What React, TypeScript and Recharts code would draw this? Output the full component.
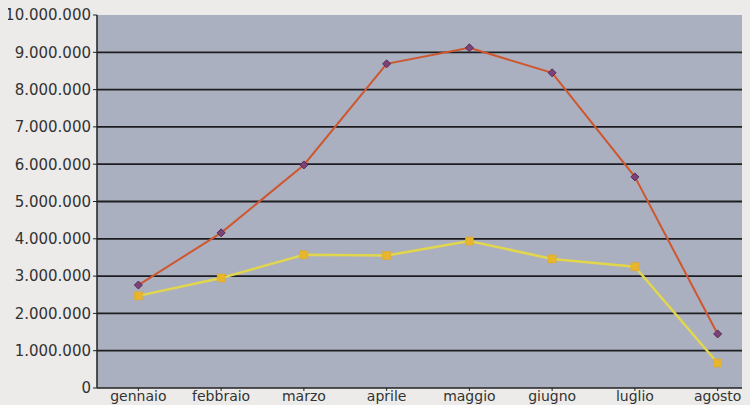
import React from 'react';
import { LineChart, Line, XAxis, YAxis, CartesianGrid } from 'recharts';

const months = ['gennaio', 'febbraio', 'marzo', 'aprile', 'maggio', 'giugno', 'luglio', 'agosto'];
const redSeries = [2760000, 4160000, 5980000, 8690000, 9120000, 8450000, 5660000, 1450000];
const yellowSeries = [2470000, 2950000, 3570000, 3550000, 3940000, 3460000, 3250000, 670000];
const yTicks = [0, 1000000, 2000000, 3000000, 4000000, 5000000, 6000000, 7000000, 8000000, 9000000, 10000000];
const gridValues = [1000000, 2000000, 3000000, 4000000, 5000000, 6000000, 7000000, 8000000, 9000000];

const data = months.map((m, i) => ({ month: m, red: redSeries[i], yellow: yellowSeries[i] }));

const fmt = (v: number) => String(v).replace(/\B(?=(\d{3})+(?!\d))/g, '.');

const Diamond = (props: any) => {
  const { cx, cy, index } = props;
  if (cx == null || cy == null) return null;
  const r = 4;
  return (
    <polygon
      key={`d-${index}`}
      points={`${cx},${cy - r} ${cx + r},${cy} ${cx},${cy + r} ${cx - r},${cy}`}
      fill="#7a4276"
      stroke="#5a2a5a"
      strokeWidth={1}
    />
  );
};

const Square = (props: any) => {
  const { cx, cy, index } = props;
  if (cx == null || cy == null) return null;
  const r = 4;
  return <rect key={`s-${index}`} x={cx - r} y={cy - r} width={2 * r} height={2 * r} fill="#e8b52e" stroke="#e0a820" strokeWidth={0.5} />;
};

export default function App() {
  return (
    <div style={{ width: 742, height: 405, marginTop: -8, overflow: 'hidden', background: '#ecebe9' }}>
      <style>{`body{background:#ecebe9;}`}</style>
      <LineChart
        width={760}
        height={405}
        data={data}
        margin={{ top: 15, right: 9, bottom: 0, left: 0 }}
        style={{ fontFamily: '"DejaVu Sans", sans-serif' }}
      >
        <CartesianGrid
          vertical={false}
          fill="#aab0bf"
          stroke="#1e1e22"
          strokeWidth={1.8}
          horizontalValues={gridValues}
        />
        <XAxis
          dataKey="month"
          scale="band"
          height={17}
          tickSize={3}
          tickMargin={0}
          axisLine={{ stroke: '#222', strokeWidth: 1.5 }}
          tickLine={{ stroke: '#222' }}
          tick={{ fill: '#333', fontSize: 14 }}
          interval={0}
        />
        <YAxis
          width={89}
          domain={[0, 10000000]}
          ticks={yTicks}
          tickFormatter={fmt}
          tickSize={4}
          tickMargin={2}
          axisLine={{ stroke: '#222', strokeWidth: 1.5 }}
          tickLine={{ stroke: '#222' }}
          tick={{ fill: '#333', fontSize: 15 }}
          interval={0}
        />
        <Line
          type="linear"
          dataKey="yellow"
          stroke="#e2d64c"
          strokeWidth={2.5}
          dot={Square}
          isAnimationActive={false}
        />
        <Line
          type="linear"
          dataKey="red"
          stroke="#cf5730"
          strokeWidth={2}
          dot={Diamond}
          isAnimationActive={false}
        />
      </LineChart>
    </div>
  );
}
